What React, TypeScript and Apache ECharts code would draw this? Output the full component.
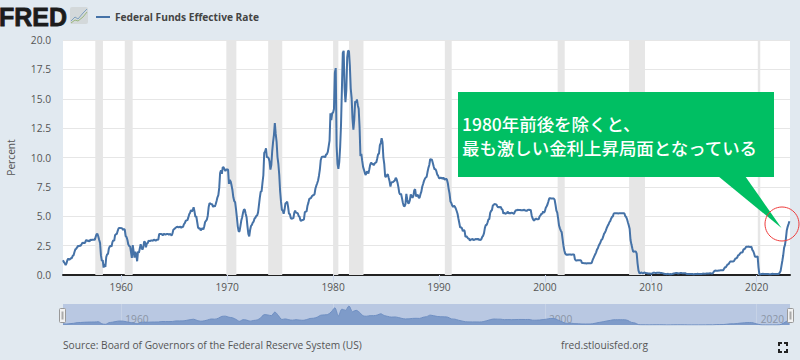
import React, { useEffect, useRef } from "react";
import * as echarts from "echarts";

const seriesName = "Federal Funds Effective Rate";
const startYear = 1954.5;
const rates = [
  1.25,1.10,1.00,0.85,1.00,1.28,
  1.39,1.29,1.35,1.43,1.43,1.64,1.68,1.96,2.18,2.24,2.35,2.48,
  2.45,2.50,2.50,2.62,2.75,2.71,2.75,2.73,2.95,2.96,2.88,2.94,
  2.84,3.00,2.96,3.00,3.00,3.00,2.99,3.24,3.47,3.50,3.28,2.98,
  2.72,1.67,1.20,1.26,0.63,0.93,0.68,1.53,1.76,1.80,2.27,2.42,
  2.48,2.43,2.80,2.96,2.90,3.39,3.47,3.50,3.76,3.98,4.00,3.99,
  3.99,3.97,3.84,3.92,3.85,3.32,3.23,2.98,2.60,2.47,2.44,1.98,
  1.45,2.54,2.02,1.49,1.98,1.73,1.17,2.00,1.88,2.26,2.62,2.33,
  2.15,2.37,2.85,2.78,2.36,2.68,2.71,2.93,2.90,2.90,2.94,2.93,
  2.92,3.00,2.98,2.90,3.00,2.99,3.02,3.49,3.48,3.50,3.48,3.38,
  3.48,3.48,3.43,3.47,3.50,3.50,3.42,3.50,3.45,3.36,3.52,3.85,
  3.90,3.98,4.04,4.09,4.10,4.04,4.09,4.12,4.01,4.08,4.10,4.32,
  4.42,4.60,4.65,4.67,4.90,5.17,5.30,5.53,5.40,5.53,5.76,5.40,
  4.94,5.00,4.53,4.05,3.94,3.98,3.79,3.90,3.99,3.88,4.13,4.51,
  4.61,4.71,5.05,5.76,6.12,6.07,6.02,6.03,5.78,5.91,5.82,6.02,
  6.30,6.61,6.79,7.41,8.67,8.90,8.61,9.19,9.15,9.00,8.85,8.97,
  8.98,8.98,7.76,8.10,7.95,7.61,7.21,6.61,6.29,6.20,5.60,4.90,
  4.14,3.72,3.71,4.16,4.63,4.91,5.31,5.57,5.55,5.20,4.91,4.14,
  3.50,3.29,3.83,4.17,4.27,4.46,4.55,4.80,4.87,5.04,5.06,5.33,
  5.94,6.58,7.09,7.12,7.84,8.49,10.40,10.50,10.78,10.01,10.03,9.95,
  9.65,8.97,9.35,10.51,11.31,11.93,12.92,12.01,11.34,10.06,9.45,8.53,
  7.13,6.24,5.54,5.49,5.22,5.55,6.10,6.14,6.24,5.82,5.22,5.20,
  4.87,4.77,4.84,4.82,5.29,5.48,5.31,5.29,5.25,5.02,4.95,4.65,
  4.61,4.68,4.69,4.73,5.35,5.39,5.42,5.90,6.14,6.47,6.51,6.56,
  6.70,6.78,6.79,6.89,7.36,7.60,7.81,8.04,8.45,8.96,9.76,10.03,
  10.07,10.06,10.09,10.01,10.24,10.29,10.47,10.94,11.43,13.77,13.18,13.78,
  13.82,14.13,17.19,17.61,10.98,9.47,9.03,9.61,10.87,12.81,15.85,18.90,
  19.08,15.93,14.70,15.72,18.52,19.10,19.04,17.82,15.87,15.08,13.31,12.37,
  13.22,14.78,14.68,14.94,14.45,14.15,12.59,10.12,10.31,9.71,9.20,8.95,
  8.68,8.51,8.77,8.80,8.63,8.98,9.37,9.56,9.45,9.48,9.34,9.47,
  9.56,9.59,9.91,10.29,10.32,11.06,11.23,11.64,11.30,9.99,9.43,8.38,
  8.35,8.50,8.58,8.27,7.97,7.53,7.88,7.90,7.92,7.99,8.05,8.27,
  8.14,7.86,7.48,6.99,6.85,6.92,6.56,6.17,5.89,5.85,6.04,6.91,
  6.43,6.10,6.13,6.37,6.85,6.73,6.58,6.73,7.22,7.29,6.69,6.77,
  6.83,6.58,6.58,6.87,7.09,7.51,7.75,8.01,8.19,8.30,8.35,8.76,
  9.12,9.36,9.85,9.84,9.81,9.53,9.24,8.99,9.02,8.84,8.55,8.45,
  8.23,8.24,8.28,8.26,8.18,8.29,8.15,8.13,8.20,8.11,7.81,7.31,
  6.91,6.25,6.12,5.91,5.78,5.90,5.82,5.66,5.45,5.21,4.81,4.43,
  4.03,4.06,3.98,3.73,3.82,3.76,3.25,3.30,3.22,3.10,3.09,2.92,
  3.02,3.03,3.07,2.96,3.00,3.04,3.06,3.03,3.09,2.99,3.02,2.96,
  3.05,3.25,3.34,3.56,4.01,4.25,4.26,4.47,4.73,4.76,5.29,5.45,
  5.53,5.92,5.98,6.05,6.01,6.00,5.85,5.74,5.80,5.76,5.80,5.60,
  5.56,5.22,5.31,5.22,5.24,5.27,5.40,5.22,5.30,5.24,5.31,5.29,
  5.25,5.19,5.39,5.51,5.50,5.56,5.52,5.54,5.54,5.50,5.52,5.50,
  5.56,5.51,5.49,5.45,5.49,5.56,5.54,5.55,5.51,5.07,4.83,4.68,
  4.63,4.76,4.81,4.74,4.74,4.76,4.99,5.07,5.22,5.20,5.42,5.30,
  5.45,5.73,5.85,6.02,6.27,6.53,6.54,6.50,6.52,6.51,6.51,6.40,
  5.98,5.49,5.31,4.80,4.21,3.97,3.77,3.65,3.07,2.49,2.09,1.82,
  1.73,1.74,1.73,1.75,1.75,1.75,1.73,1.74,1.75,1.75,1.34,1.24,
  1.24,1.26,1.25,1.26,1.26,1.22,1.01,1.03,1.01,1.01,1.00,0.98,
  1.00,1.01,1.00,1.00,1.00,1.03,1.26,1.43,1.61,1.76,1.93,2.16,
  2.28,2.50,2.63,2.79,3.00,3.04,3.26,3.50,3.62,3.78,4.00,4.16,
  4.29,4.49,4.59,4.79,4.94,4.99,5.24,5.25,5.25,5.25,5.25,5.24,
  5.25,5.26,5.26,5.25,5.25,5.25,5.26,5.02,4.94,4.76,4.49,4.24,
  3.94,2.98,2.61,2.28,1.98,2.00,2.01,2.00,1.81,0.97,0.39,0.16,
  0.15,0.22,0.18,0.15,0.18,0.21,0.16,0.16,0.15,0.12,0.12,0.12,
  0.11,0.13,0.16,0.20,0.20,0.18,0.18,0.19,0.19,0.19,0.19,0.18,
  0.17,0.16,0.14,0.10,0.09,0.09,0.07,0.10,0.08,0.07,0.08,0.07,
  0.08,0.10,0.13,0.14,0.16,0.16,0.16,0.13,0.14,0.16,0.16,0.16,
  0.14,0.15,0.14,0.15,0.11,0.09,0.09,0.08,0.08,0.09,0.08,0.09,
  0.07,0.07,0.08,0.09,0.09,0.10,0.09,0.09,0.09,0.09,0.09,0.12,
  0.11,0.11,0.11,0.12,0.12,0.13,0.13,0.14,0.14,0.12,0.12,0.24,
  0.34,0.38,0.36,0.37,0.37,0.38,0.39,0.40,0.40,0.40,0.41,0.54,
  0.65,0.66,0.79,0.90,0.91,1.04,1.15,1.16,1.15,1.15,1.16,1.30,
  1.41,1.42,1.51,1.69,1.70,1.82,1.91,1.91,1.95,2.19,2.20,2.27,
  2.40,2.40,2.41,2.42,2.39,2.38,2.40,2.13,2.04,1.83,1.55,1.55,
  1.55,1.58,0.65,0.05,0.05,0.08,0.09,0.10,0.09,0.09,0.09,0.09,
  0.09,0.08,0.07,0.07,0.06,0.08,0.10,0.09,0.08,0.08,0.08,0.08,
  0.08,0.08,0.20,0.33,0.77,1.21,1.68,2.33,2.56,3.08,3.78,4.10,
  4.33,4.57,
];
const recessions = [
  [1957.55, 1958.27], [1960.33, 1961.08], [1969.92, 1970.87], [1973.87, 1975.2],
  [1980.0, 1980.5], [1981.5, 1982.87], [1990.55, 1991.2], [2001.2, 2001.87],
  [2007.95, 2009.45], [2020.1, 2020.33],
];
const yearTicks = [1960, 1970, 1980, 1990, 2000, 2010, 2020];
const navigatorYears = [1960, 1980, 2000, 2020];
const callout = ["1980年前後を除くと、", "最も激しい金利上昇局面となっている"];
const sourceText = "Source: Board of Governors of the Federal Reserve System (US)";
const siteText = "fred.stlouisfed.org";

const FONT = '"Open Sans", sans-serif';
const BG = "#e1e9f0";
const LINE = "#4572a7";
const GREEN = "#00bf63";

export default function App() {
  const ref = useRef<HTMLDivElement>(null);
  useEffect(() => {
    document.body.style.margin = "0";
    const chart = echarts.init(ref.current!, undefined, { renderer: "svg" });
    // The x axis counts years from the first observation, so that it starts at 0.
    const toX = (year: number) => year - startYear;
    const points = rates.map((v, i) => [i / 12, v]);
    const navPoints = points.filter((_, i) => i % 4 === 0 || i === points.length - 1);
    const xMax = 68.64;
    const yearLabel = (v: number) => String(Math.round(v + startYear));
    const cornerStyle = { stroke: "#222", lineWidth: 2, fill: "none" };
    chart.setOption({
      animation: false,
      backgroundColor: BG,
      textStyle: { fontFamily: FONT },
      legend: {
        left: 91,
        top: 7,
        data: [{ name: seriesName, icon: "rect" }],
        itemWidth: 14,
        itemHeight: 2,
        itemGap: 5,
        selectedMode: false,
        textStyle: { fontFamily: FONT, fontSize: 10.2, fontWeight: 700, color: "#444" },
      },
      grid: [
        { left: 63, top: 40, width: 727, height: 235, show: true, backgroundColor: "#ffffff", borderWidth: 0, outerBoundsMode: "none" },
        { left: 63, top: 304, width: 727, height: 21, show: true, backgroundColor: "#b9c8e2", borderWidth: 0, outerBoundsMode: "none" },
      ],
      xAxis: [
        {
          type: "value", gridIndex: 0, min: 0, max: xMax, interval: xMax,
          splitLine: { show: false },
          axisLine: { show: true, onZero: true, lineStyle: { color: "#222", width: 2 } },
          axisTick: { show: true, length: 7, lineStyle: { color: "#ccd6eb" }, customValues: yearTicks.map(toX) },
          axisLabel: { show: true, color: "#555", fontSize: 10.2, margin: 7, customValues: yearTicks.map(toX), formatter: yearLabel },
        },
        {
          type: "value", gridIndex: 1, min: 0, max: xMax, interval: xMax,
          splitLine: { show: false },
          axisLine: { show: false },
          axisTick: { show: true, inside: true, length: 21, lineStyle: { color: "#c6d2e6" }, customValues: navigatorYears.map(toX) },
          axisLabel: { show: true, inside: true, color: "#8b95a5", fontSize: 10.2, margin: 1, align: "left", customValues: navigatorYears.map(toX), formatter: yearLabel, padding: [0, 0, 0, 4] },
        },
      ],
      yAxis: [
        {
          type: "value", gridIndex: 0, min: 0, max: 20, interval: 2.5,
          name: "Percent", nameLocation: "middle", nameGap: 47,
          nameTextStyle: { color: "#555", fontSize: 10.2, fontFamily: FONT },
          axisLine: { show: false }, axisTick: { show: false },
          splitLine: { lineStyle: { color: "#e6e6e6", width: 1 } },
          axisLabel: { color: "#555", fontSize: 10.2, margin: 12, formatter: (v: number) => v.toFixed(1) },
        },
        { type: "value", gridIndex: 1, min: 0, max: 21, show: false },
      ],
      series: [
        {
          name: seriesName, type: "line", xAxisIndex: 0, yAxisIndex: 0, data: points,
          showSymbol: false, symbol: "none", color: LINE,
          lineStyle: { color: LINE, width: 2 }, z: 3,
          markArea: {
            silent: true, itemStyle: { color: "#e6e6e6" },
            data: recessions.map(([a, b]) => [{ xAxis: toX(a) }, { xAxis: toX(b) }]),
          },
        },
        {
          name: "navigator", type: "line", xAxisIndex: 1, yAxisIndex: 1, data: navPoints,
          showSymbol: false, symbol: "none", smooth: 0.3,
          lineStyle: { color: "#6f8fc2", width: 1 },
          areaStyle: { color: "#7e9bc9", opacity: 1 },
        },
      ],
      graphic: [
        { type: "text", x: -1, y: 4, style: { text: "FRED", font: '900 25px "Liberation Sans", sans-serif', fill: "#1c1c1c", stroke: "#1c1c1c", lineWidth: 0.8 } },
        { type: "rect", shape: { x: 70, y: 7, width: 18, height: 17, r: 2 }, style: { fill: "#d3d8da" } },
        { type: "polyline", shape: { points: [[71, 21], [75, 17], [78, 19], [83, 13], [87, 9]] }, style: { stroke: "#7fa1bf", lineWidth: 1, fill: "none" } },
        { type: "polyline", shape: { points: [[71, 23], [75, 20], [78, 21], [83, 17], [87, 12]] }, style: { stroke: "#9ab77f", lineWidth: 1, fill: "none" } },
        { type: "polygon", z: 20, shape: { points: [[718, 176], [745, 176], [781.5, 228]] }, style: { fill: GREEN } },
        { type: "rect", z: 20, shape: { x: 458, y: 92, width: 316, height: 85 }, style: { fill: GREEN } },
        { type: "text", z: 21, x: 462, y: 123, style: { text: callout[0], font: '500 17.45px "Noto Sans CJK JP", sans-serif', fill: "#ffffff", textVerticalAlign: "middle" } },
        { type: "text", z: 21, x: 462, y: 147, style: { text: callout[1], font: '500 17.45px "Noto Sans CJK JP", sans-serif', fill: "#ffffff", textVerticalAlign: "middle" } },
        { type: "circle", z: 22, shape: { cx: 782, cy: 224, r: 17 }, style: { fill: "none", stroke: "#ef3b3b", lineWidth: 1 } },
        { type: "rect", z: 23, shape: { x: 59.5, y: 308.5, width: 6, height: 14, r: 1 }, style: { fill: "#f2f2f2", stroke: "#999", lineWidth: 1 } },
        { type: "rect", z: 24, shape: { x: 61.5, y: 311.5, width: 2, height: 8 }, style: { fill: "#aaa" } },
        { type: "rect", z: 23, shape: { x: 787.5, y: 308.5, width: 6, height: 14, r: 1 }, style: { fill: "#f2f2f2", stroke: "#999", lineWidth: 1 } },
        { type: "rect", z: 24, shape: { x: 789.5, y: 311.5, width: 2, height: 8 }, style: { fill: "#aaa" } },
        { type: "text", x: 63, y: 345, style: { text: sourceText, font: `10.2px ${FONT}`, fill: "#555", textVerticalAlign: "middle" } },
        { type: "text", x: 561, y: 345, style: { text: siteText, font: `10.2px ${FONT}`, fill: "#555", textVerticalAlign: "middle" } },
        { type: "polyline", shape: { points: [[779, 346], [779, 343], [782, 343]] }, style: cornerStyle },
        { type: "polyline", shape: { points: [[784, 343], [787, 343], [787, 346]] }, style: cornerStyle },
        { type: "polyline", shape: { points: [[779, 349], [779, 352], [782, 352]] }, style: cornerStyle },
        { type: "polyline", shape: { points: [[784, 352], [787, 352], [787, 349]] }, style: cornerStyle },
      ],
    });
    return () => chart.dispose();
  }, []);
  return <div ref={ref} style={{ width: 800, height: 360 }} />;
}
